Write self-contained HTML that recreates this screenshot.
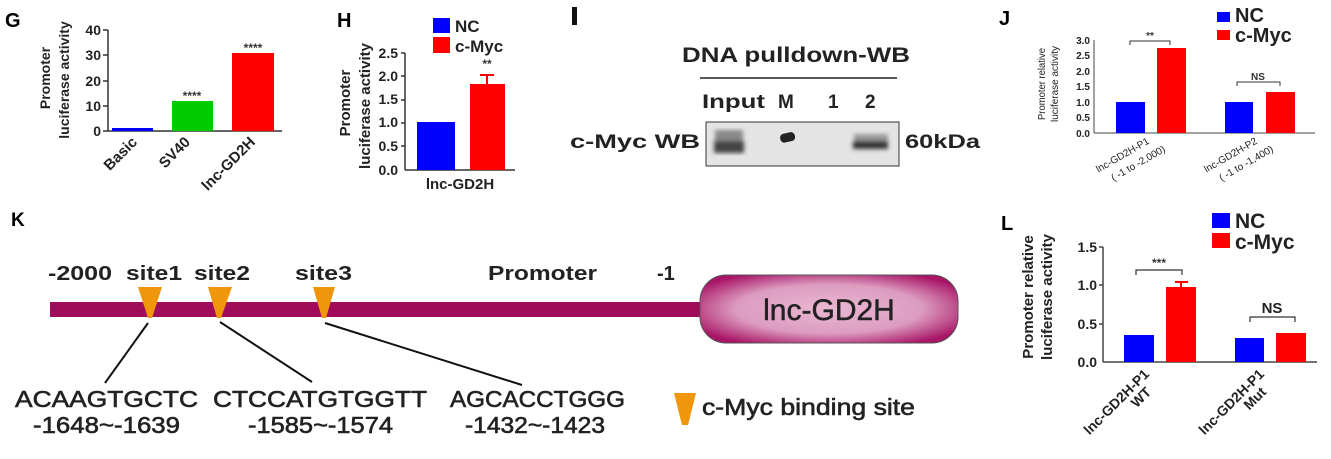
<!DOCTYPE html>
<html><head><meta charset="utf-8"><style>
html,body{margin:0;padding:0;background:#fff;}
svg{display:block;font-family:"Liberation Sans",Arial,sans-serif;}
.b{font-weight:bold;}
</style></head><body>
<svg width="1331" height="459" viewBox="0 0 1331 459" xmlns="http://www.w3.org/2000/svg">
<defs>
<radialGradient id="pg" cx="50%" cy="50%" r="60%">
<stop offset="0" stop-color="#eab8d2"/><stop offset="0.6" stop-color="#dc9cc0"/><stop offset="1" stop-color="#a81466"/>
</radialGradient>
<filter id="bl"><feGaussianBlur stdDeviation="2"/></filter>
</defs>

<!-- G -->
<text x="5" y="27" class="b" font-size="20">G</text>
<g class="b" font-size="14" fill="#222" text-anchor="end">
<text x="101" y="35">40</text><text x="101" y="60">30</text><text x="101" y="86">20</text><text x="101" y="111">10</text><text x="101" y="136">0</text>
</g>
<g stroke="#333" stroke-width="1.5">
<line x1="108" y1="30" x2="108" y2="131"/><line x1="108" y1="131" x2="282" y2="131"/>
<line x1="103" y1="30" x2="108" y2="30"/><line x1="103" y1="55" x2="108" y2="55"/><line x1="103" y1="81" x2="108" y2="81"/><line x1="103" y1="106" x2="108" y2="106"/><line x1="103" y1="131" x2="108" y2="131"/>
</g>
<rect x="112" y="128" width="41" height="3" fill="#0000ff"/>
<rect x="172" y="101" width="41" height="30" fill="#00cc00"/>
<rect x="232" y="53" width="42" height="78" fill="#ff0000"/>
<g class="b" font-size="12" fill="#333" text-anchor="middle"><text x="192" y="100">****</text><text x="253" y="52">****</text></g>
<g class="b" font-size="14" fill="#222" text-anchor="middle">
<text transform="translate(50,78) rotate(-90)">Promoter</text>
<text transform="translate(69,80) rotate(-90)">luciferase activity</text>
</g>
<g class="b" font-size="15" fill="#222" text-anchor="end">
<text transform="translate(138,143) rotate(-45)">Basic</text>
<text transform="translate(191,143) rotate(-45)">SV40</text>
<text transform="translate(256,143) rotate(-45)">lnc-GD2H</text>
</g>

<!-- H -->
<text x="337" y="27" class="b" font-size="20">H</text>
<rect x="433" y="18" width="17" height="15" fill="#0000ff"/><rect x="433" y="37" width="17" height="16" fill="#ff0000"/>
<g class="b" font-size="17" fill="#222"><text x="455" y="32">NC</text><text x="455" y="52">c-Myc</text></g>
<g class="b" font-size="14" fill="#222" text-anchor="end">
<text x="398" y="58">2.5</text><text x="398" y="81">2.0</text><text x="398" y="104">1.5</text><text x="398" y="127">1.0</text><text x="398" y="151">0.5</text><text x="398" y="175">0.0</text>
</g>
<g stroke="#333" stroke-width="1.5">
<line x1="405" y1="53" x2="405" y2="170"/><line x1="405" y1="170" x2="515" y2="170"/>
<line x1="401" y1="53" x2="405" y2="53"/><line x1="401" y1="76" x2="405" y2="76"/><line x1="401" y1="100" x2="405" y2="100"/><line x1="401" y1="123" x2="405" y2="123"/><line x1="401" y1="146" x2="405" y2="146"/>
</g>
<rect x="417" y="122" width="38" height="48" fill="#0000ff"/>
<rect x="470" y="84" width="35" height="86" fill="#ff0000"/>
<g stroke="#ff0000" stroke-width="2"><line x1="487" y1="84" x2="487" y2="75"/><line x1="480" y1="75" x2="494" y2="75"/></g>
<text x="487" y="68" class="b" font-size="12" fill="#333" text-anchor="middle">**</text>
<text x="460" y="189" class="b" font-size="15" fill="#222" text-anchor="middle">lnc-GD2H</text>
<g class="b" font-size="15" fill="#222" text-anchor="middle">
<text transform="translate(350,103) rotate(-90)">Promoter</text>
<text transform="translate(370,106) rotate(-90)">luciferase activity</text>
</g>

<!-- I -->
<rect x="572" y="7" width="5" height="18" fill="#111"/>
<text x="682" y="62" class="b" font-size="21" fill="#222" textLength="228" lengthAdjust="spacingAndGlyphs">DNA pulldown-WB</text>
<line x1="700" y1="78" x2="897" y2="78" stroke="#222" stroke-width="1.5"/>
<g class="b" font-size="19" fill="#222">
<text x="702" y="108" textLength="63" lengthAdjust="spacingAndGlyphs">Input</text>
<text x="778" y="108">M</text><text x="828" y="108">1</text><text x="865" y="108">2</text>
<text x="570" y="148" textLength="130" lengthAdjust="spacingAndGlyphs">c-Myc  WB</text>
<text x="905" y="148" textLength="75" lengthAdjust="spacingAndGlyphs">60kDa</text>
</g>
<rect x="706" y="122" width="193" height="44" fill="#e4e4e4" stroke="#333" stroke-width="1"/>
<g filter="url(#bl)">
<rect x="715" y="130" width="28" height="12" fill="#888"/>
<rect x="714" y="141" width="30" height="12" fill="#444"/>
<rect x="854" y="134" width="34" height="7" fill="#999"/>
<rect x="853" y="141" width="35" height="8" fill="#333"/>
</g>
<rect x="780" y="133" width="15" height="9" rx="4" fill="#222" transform="rotate(-12 787 137)"/>

<!-- J -->
<text x="999" y="25" class="b" font-size="20">J</text>
<rect x="1217" y="12" width="13" height="10" fill="#0000ff"/><rect x="1217" y="30" width="13" height="10" fill="#ff0000"/>
<g class="b" font-size="20" fill="#222"><text x="1235" y="22">NC</text><text x="1235" y="42">c-Myc</text></g>
<g class="b" font-size="10" fill="#222" text-anchor="end">
<text x="1090" y="44">3.0</text><text x="1090" y="59">2.5</text><text x="1090" y="75">2.0</text><text x="1090" y="90">1.5</text><text x="1090" y="106">1.0</text><text x="1090" y="121">0.5</text><text x="1090" y="137">0.0</text>
</g>
<g stroke="#444" stroke-width="1"><line x1="1094" y1="40" x2="1094" y2="133"/><line x1="1094" y1="133" x2="1315" y2="133"/></g>
<rect x="1116" y="102" width="29" height="31" fill="#0000ff"/>
<rect x="1157" y="48" width="29" height="85" fill="#ff0000"/>
<rect x="1225" y="102" width="28" height="31" fill="#0000ff"/>
<rect x="1266" y="92" width="29" height="41" fill="#ff0000"/>
<path d="M1130 45 V41 H1170 V45 M1237 86 V82 H1280 V86" fill="none" stroke="#333" stroke-width="1"/>
<text x="1150" y="39" class="b" font-size="10" fill="#333" text-anchor="middle">**</text>
<text x="1258" y="80" class="b" font-size="10" fill="#333" text-anchor="middle">NS</text>
<g font-size="10" fill="#222" text-anchor="middle">
<text transform="translate(1045,84) rotate(-90)" textLength="72" lengthAdjust="spacingAndGlyphs">Promoter relative</text>
<text transform="translate(1058,84) rotate(-90)" textLength="76" lengthAdjust="spacingAndGlyphs">luciferase activity</text>
</g>
<g font-size="10" fill="#222" text-anchor="end">
<text transform="translate(1150,143) rotate(-30)">lnc-GD2H-P1</text>
<text transform="translate(1166,151) rotate(-30)">( -1 to -2,000)</text>
<text transform="translate(1258,143) rotate(-30)">lnc-GD2H-P2</text>
<text transform="translate(1274,151) rotate(-30)">( -1 to -1,400)</text>
</g>

<!-- K -->
<text x="11" y="226" class="b" font-size="19">K</text>
<g class="b" font-size="20" fill="#222">
<text x="48" y="280" textLength="64" lengthAdjust="spacingAndGlyphs">-2000</text>
<text x="126" y="280" textLength="56" lengthAdjust="spacingAndGlyphs">site1</text>
<text x="194" y="280" textLength="56" lengthAdjust="spacingAndGlyphs">site2</text>
<text x="295" y="280" textLength="57" lengthAdjust="spacingAndGlyphs">site3</text>
<text x="488" y="280" textLength="109" lengthAdjust="spacingAndGlyphs">Promoter</text>
<text x="657" y="280">-1</text>
</g>
<rect x="50" y="302" width="655" height="15" fill="#a00c5a"/>
<rect x="700" y="275" width="258" height="68" rx="26" fill="url(#pg)" stroke="#555" stroke-width="1"/>
<text x="829" y="320" font-size="30" fill="#222" stroke="#222" stroke-width="0.5" text-anchor="middle">lnc-GD2H</text>
<g fill="#f0960a">
<path d="M138 287 H162 L152 318 H148 Z"/>
<path d="M208 287 H232 L221 318 H217 Z"/>
<path d="M313 287 H335 L326 318 H322 Z"/>
<path d="M674 393 H696 L688 425 H682 Z"/>
</g>
<g stroke="#111" stroke-width="2">
<line x1="148" y1="323" x2="105" y2="383"/>
<line x1="220" y1="322" x2="312" y2="382"/>
<line x1="325" y1="323" x2="522" y2="385"/>
</g>
<g font-size="23" fill="#222" stroke="#222" stroke-width="0.6">
<text x="15" y="407" textLength="183" lengthAdjust="spacingAndGlyphs">ACAAGTGCTC</text>
<text x="213" y="407" textLength="214" lengthAdjust="spacingAndGlyphs">CTCCATGTGGTT</text>
<text x="450" y="407" textLength="175" lengthAdjust="spacingAndGlyphs">AGCACCTGGG</text>
<text x="33" y="433" textLength="147" lengthAdjust="spacingAndGlyphs">-1648~-1639</text>
<text x="248" y="433" textLength="145" lengthAdjust="spacingAndGlyphs">-1585~-1574</text>
<text x="465" y="433" textLength="140" lengthAdjust="spacingAndGlyphs">-1432~-1423</text>
<text x="702" y="415" textLength="213" lengthAdjust="spacingAndGlyphs">c-Myc binding site</text>
</g>

<!-- L -->
<text x="1001" y="230" class="b" font-size="20">L</text>
<rect x="1212" y="213" width="18" height="15" fill="#0000ff"/><rect x="1212" y="233" width="18" height="15" fill="#ff0000"/>
<g class="b" font-size="21" fill="#222"><text x="1235" y="228">NC</text><text x="1235" y="249">c-Myc</text></g>
<g class="b" font-size="14" fill="#222" text-anchor="end">
<text x="1097" y="252">1.5</text><text x="1097" y="290">1.0</text><text x="1097" y="329">0.5</text><text x="1097" y="367">0.0</text>
</g>
<g stroke="#444" stroke-width="1.5">
<line x1="1103" y1="247" x2="1103" y2="362"/><line x1="1103" y1="362" x2="1317" y2="362"/>
<line x1="1099" y1="247" x2="1103" y2="247"/><line x1="1099" y1="285" x2="1103" y2="285"/><line x1="1099" y1="324" x2="1103" y2="324"/>
</g>
<rect x="1124" y="335" width="30" height="27" fill="#0000ff"/>
<rect x="1166" y="287" width="30" height="75" fill="#ff0000"/>
<g stroke="#ff0000" stroke-width="2"><line x1="1181" y1="287" x2="1181" y2="282"/><line x1="1175" y1="282" x2="1188" y2="282"/></g>
<rect x="1235" y="338" width="29" height="24" fill="#0000ff"/>
<rect x="1276" y="333" width="30" height="29" fill="#ff0000"/>
<path d="M1136 275 V270 H1182 V275 M1250 322 V317 H1295 V322" fill="none" stroke="#333" stroke-width="1.2"/>
<text x="1159" y="267" class="b" font-size="12" fill="#333" text-anchor="middle">***</text>
<text x="1272" y="313" class="b" font-size="15" fill="#222" text-anchor="middle">NS</text>
<g class="b" font-size="15" fill="#222" text-anchor="middle">
<text transform="translate(1033,297) rotate(-90)">Promoter relative</text>
<text transform="translate(1052,297) rotate(-90)">luciferase activity</text>
</g>
<g class="b" font-size="14" fill="#222" text-anchor="end">
<text transform="translate(1150,375) rotate(-45)">lnc-GD2H-P1</text>
<text transform="translate(1152,393) rotate(-45)">WT</text>
<text transform="translate(1265,375) rotate(-45)">lnc-GD2H-P1</text>
<text transform="translate(1267,393) rotate(-45)">Mut</text>
</g>
</svg>
</body></html>
